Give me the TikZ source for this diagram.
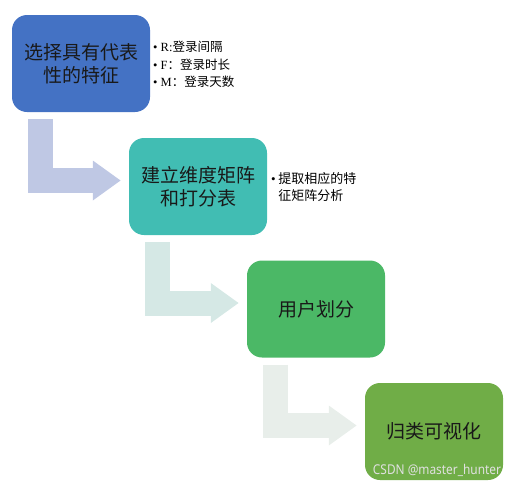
\documentclass[tikz,border=0pt]{standalone}
\usepackage{fontspec}
\setmainfont{Liberation Serif}
\newfontfamily\cjk{Noto Sans CJK SC}
\newfontfamily\wmfont[FakeStretch=0.88]{Noto Sans}
\usetikzlibrary{calc, arrows.meta}

\definecolor{passoA}{HTML}{4472C4}
\definecolor{passoB}{HTML}{41BDB3}
\definecolor{passoC}{HTML}{4BB866}
\definecolor{passoD}{HTML}{70AD47}
\definecolor{frecciaA}{HTML}{BFC8E4}
\definecolor{frecciaB}{HTML}{D5E8E5}
\definecolor{frecciaC}{HTML}{E8EEEA}

\begin{document}
\begin{tikzpicture}[x=1pt, y=-1pt,
    passo/.style={rounded corners=15pt, minimum width=138pt, minimum height=97pt,
        inner sep=0pt, align=center, text=black!90,
        font=\cjk\fontsize{19}{23}\selectfont},
    freccia/.style={line width=25pt, line join=miter, shorten >=8pt,
        -{Triangle[length=28pt, width=38pt]}},
    nota/.style={anchor=west, align=left, inner sep=0pt}]

    % area del disegno
    \useasboundingbox (0,0) rectangle (521,490);

    % ==========================================
    % PASSI (riquadri arrotondati)
    % ==========================================
    \node[passo, fill=passoA] (s1) at (81,63.5) {选择具有代表\\性的特征};
    \node[passo, fill=passoB] (s2) at (198,186.5) {建立维度矩阵\\和打分表};
    \node[passo, fill=passoC] (s3) at (316,309) {用户划分};
    \node[passo, fill=passoD] (s4) at (434,431.5) {归类可视化};

    % ==========================================
    % FRECCE A GOMITO
    % ==========================================
    \draw[freccia, draw=frecciaA] ($(s1.south west)+(29,7)$) |- ([yshift=6pt]s2.west);
    \draw[freccia, draw=frecciaB] ($(s2.south west)+(29,7)$) |- ([yshift=6pt]s3.west);
    \draw[freccia, draw=frecciaC] ($(s3.south west)+(29,7)$) |- ([yshift=6pt]s4.west);

    % ==========================================
    % NOTE A LATO
    % ==========================================
    \node[nota, font=\fontsize{12.5}{17.5}\selectfont] (n1) at (153,64.5)
        {\textbullet\ R:{\cjk 登录间隔}\\
         \textbullet\ F{\cjk ：登录时长}\\
         \textbullet\ M{\cjk ：登录天数}};
    \node[nota, font=\cjk\fontsize{13}{17.5}\selectfont] (n2) at (271,188.5)
        {\begin{tabular}{@{}l@{\hspace{2.5pt}}l@{}}
         {\rmfamily\textbullet}&提取相应的特\\
          &征矩阵分析
         \end{tabular}};

    % filigrana
    \node[text=white!88!black, font=\wmfont\fontsize{13.5}{16}\selectfont] (marca) at (437,470)
        {CSDN @master\_hunter};

\end{tikzpicture}
\end{document}
